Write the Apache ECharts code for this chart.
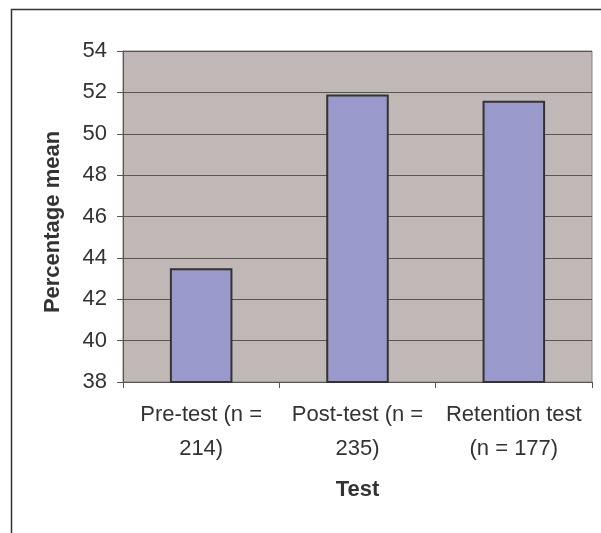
<!DOCTYPE html>
<html>
<head>
<meta charset="utf-8">
<script src="https://cdn.jsdelivr.net/npm/echarts@6/dist/echarts.min.js"></script>
<style>
html,body{margin:0;padding:0;background:#fff;}
#c{width:601px;height:533px;}
</style>
</head>
<body>
<div id="c"></div>
<script>
const categories = ['Pre-test (n =\n214)', 'Post-test (n =\n235)', 'Retention test\n(n = 177)'];
const means = [43.5, 51.9, 51.6];
const yTicks = {min: 38, max: 54, interval: 2};
const xTitle = 'Test';
const yTitle = 'Percentage mean';

const FONT = '"Liberation Sans", Arial, sans-serif';
const chart = echarts.init(document.getElementById('c'), null, {renderer: 'canvas'});
chart.setOption({
  animation: false,
  backgroundColor: '#ffffff',
  graphic: [{
    type: 'rect',
    shape: {x: 11.5, y: 9.5, width: 700, height: 700},
    style: {fill: 'none', stroke: '#333', lineWidth: 1.5},
    silent: true
  }, {
    type: 'text',
    x: 53, y: 222,
    rotation: Math.PI / 2,
    style: {text: yTitle, fontFamily: FONT, fontSize: 22, fontWeight: 'bold', fill: '#333',
            letterSpacing: 0.6, align: 'center', verticalAlign: 'middle'},
    silent: true
  }],
  grid: {
    left: 123, top: 51, right: 9, bottom: 151,
    show: true, backgroundColor: '#C0B8B6', borderColor: '#8a8282', borderWidth: 1
  },
  xAxis: {
    type: 'category',
    data: categories,
    name: xTitle,
    nameLocation: 'middle',
    nameGap: 97,
    nameTextStyle: {fontFamily: FONT, fontSize: 22, fontWeight: 'bold', color: '#333', letterSpacing: 1.7},
    axisLine: {show: true, lineStyle: {color: '#555', width: 1}},
    axisTick: {show: true, length: 6, lineStyle: {color: '#555'}},
    axisLabel: {interval: 0, fontFamily: FONT, fontSize: 22, color: '#333', lineHeight: 34, margin: 16}
  },
  yAxis: {
    type: 'value',
    min: yTicks.min, max: yTicks.max, interval: yTicks.interval,
    axisLine: {show: true, lineStyle: {color: '#555', width: 1}},
    axisTick: {show: true, length: 6, lineStyle: {color: '#555'}},
    axisLabel: {fontFamily: FONT, fontSize: 22, color: '#333', margin: 16},
    splitLine: {show: true, lineStyle: {color: '#5a5454', width: 1}}
  },
  series: [{
    type: 'bar',
    data: means,
    barWidth: '40%',
    itemStyle: {color: '#9999CC', borderColor: '#333', borderWidth: 2}
  }]
});
</script>
</body>
</html>
